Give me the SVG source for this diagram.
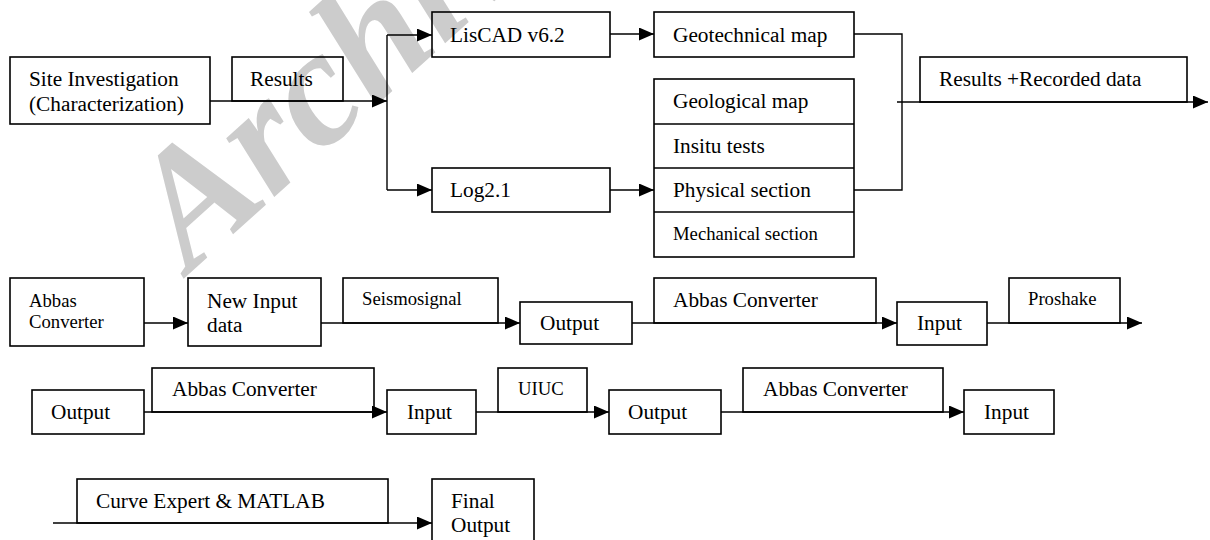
<svg xmlns="http://www.w3.org/2000/svg" width="1210" height="540" viewBox="0 0 1210 540">
<style>
.b{fill:none;stroke:#000;stroke-width:1.6}
.c{fill:none;stroke:#000;stroke-width:1.4}
.t{font-family:"Liberation Serif","Times New Roman",serif;font-size:21.3px;fill:#000}
.s{font-family:"Liberation Serif","Times New Roman",serif;font-size:18.7px;fill:#000}
.w{font-family:"Liberation Serif","Times New Roman",serif;font-size:165px;font-weight:bold;font-style:italic;fill:#cccccc}
</style>
<defs>
<marker id="ah" markerUnits="userSpaceOnUse" markerWidth="16" markerHeight="14" refX="15" refY="6.5" orient="auto">
<path d="M0,0 L15,6.5 L0,13 z" fill="#000"/>
</marker>
</defs>
<rect width="1210" height="540" fill="#fff"/>
<text class="w" transform="translate(190,273) rotate(-42)">Archive</text>

<g id="connectors">
<path class="c" d="M210,101 H387" marker-end="url(#ah)"/>
<path class="c" d="M387,35 V190"/>
<path class="c" d="M387,35 H432" marker-end="url(#ah)"/>
<path class="c" d="M387,190 H432" marker-end="url(#ah)"/>
<path class="c" d="M610,34 H654" marker-end="url(#ah)"/>
<path class="c" d="M610,190 H654" marker-end="url(#ah)"/>
<path class="c" d="M854,34 H902 V190 H854"/>
<path class="c" d="M897,102 H1208" marker-end="url(#ah)"/>
<path class="c" d="M144,323 H188" marker-end="url(#ah)"/>
<path class="c" d="M321,323 H520" marker-end="url(#ah)"/>
<path class="c" d="M632,323 H897" marker-end="url(#ah)"/>
<path class="c" d="M987,323 H1142" marker-end="url(#ah)"/>
<path class="c" d="M144,412 H387" marker-end="url(#ah)"/>
<path class="c" d="M476,412 H609" marker-end="url(#ah)"/>
<path class="c" d="M721,412 H964" marker-end="url(#ah)"/>
<path class="c" d="M53,523 H432" marker-end="url(#ah)"/>
</g>

<g id="site"><rect class="b" x="10" y="57" width="200" height="67"/><text class="t" x="29" y="86">Site Investigation</text><text class="t" x="29" y="111">(Characterization)</text></g>
<g id="results"><rect class="b" x="232" y="57" width="111" height="44"/><text class="t" x="250" y="86">Results</text></g>
<g id="liscad"><rect class="b" x="432" y="12" width="178" height="45"/><text class="t" x="450" y="42">LisCAD v6.2</text></g>
<g id="log"><rect class="b" x="432" y="168" width="178" height="44"/><text class="t" x="450" y="197">Log2.1</text></g>
<g id="geotech"><rect class="b" x="654" y="12" width="200" height="45"/><text class="t" x="673" y="42">Geotechnical map</text></g>
<g id="stack">
<rect class="b" x="654" y="79" width="200" height="178"/>
<path class="b" d="M654,124 H854 M654,168 H854 M654,212 H854"/>
<text class="t" x="673" y="108">Geological map</text>
<text class="t" x="673" y="153">Insitu tests</text>
<text class="t" x="673" y="197">Physical section</text>
<text class="s" x="673" y="240">Mechanical section</text>
</g>
<g id="recorded"><rect class="b" x="920" y="57" width="267" height="45"/><text class="t" x="939" y="86">Results +Recorded data</text></g>

<g id="abbas1"><rect class="b" x="10" y="278" width="134" height="68"/><text class="s" x="29" y="307">Abbas</text><text class="s" x="29" y="328">Converter</text></g>
<g id="newinput"><rect class="b" x="188" y="278" width="133" height="68"/><text class="t" x="207" y="308">New Input</text><text class="t" x="207" y="332">data</text></g>
<g id="seismo"><rect class="b" x="343" y="278" width="155" height="45"/><text class="s" x="362" y="305">Seismosignal</text></g>
<g id="output1"><rect class="b" x="520" y="302" width="112" height="42"/><text class="t" x="540" y="330">Output</text></g>
<g id="abbas2"><rect class="b" x="654" y="278" width="222" height="45"/><text class="t" x="673" y="307">Abbas Converter</text></g>
<g id="input1"><rect class="b" x="897" y="302" width="90" height="43"/><text class="t" x="917" y="330">Input</text></g>
<g id="proshake"><rect class="b" x="1009" y="278" width="111" height="45"/><text class="s" x="1028" y="305">Proshake</text></g>

<g id="output2"><rect class="b" x="32" y="390" width="112" height="44"/><text class="t" x="51" y="419">Output</text></g>
<g id="abbas3"><rect class="b" x="152" y="368" width="222" height="44"/><text class="t" x="172" y="396">Abbas Converter</text></g>
<g id="input2"><rect class="b" x="387" y="390" width="89" height="44"/><text class="t" x="407" y="419">Input</text></g>
<g id="uiuc"><rect class="b" x="498" y="368" width="89" height="44"/><text class="s" x="518" y="395">UIUC</text></g>
<g id="output3"><rect class="b" x="609" y="390" width="112" height="44"/><text class="t" x="628" y="419">Output</text></g>
<g id="abbas4"><rect class="b" x="743" y="368" width="200" height="44"/><text class="t" x="763" y="396">Abbas Converter</text></g>
<g id="input3"><rect class="b" x="964" y="390" width="90" height="44"/><text class="t" x="984" y="419">Input</text></g>

<g id="curve"><rect class="b" x="77" y="479" width="311" height="44"/><text class="t" x="96" y="508">Curve Expert &amp; MATLAB</text></g>
<g id="final"><rect class="b" x="432" y="479" width="102" height="75"/><text class="t" x="451" y="508">Final</text><text class="t" x="451" y="532">Output</text></g>
</svg>
